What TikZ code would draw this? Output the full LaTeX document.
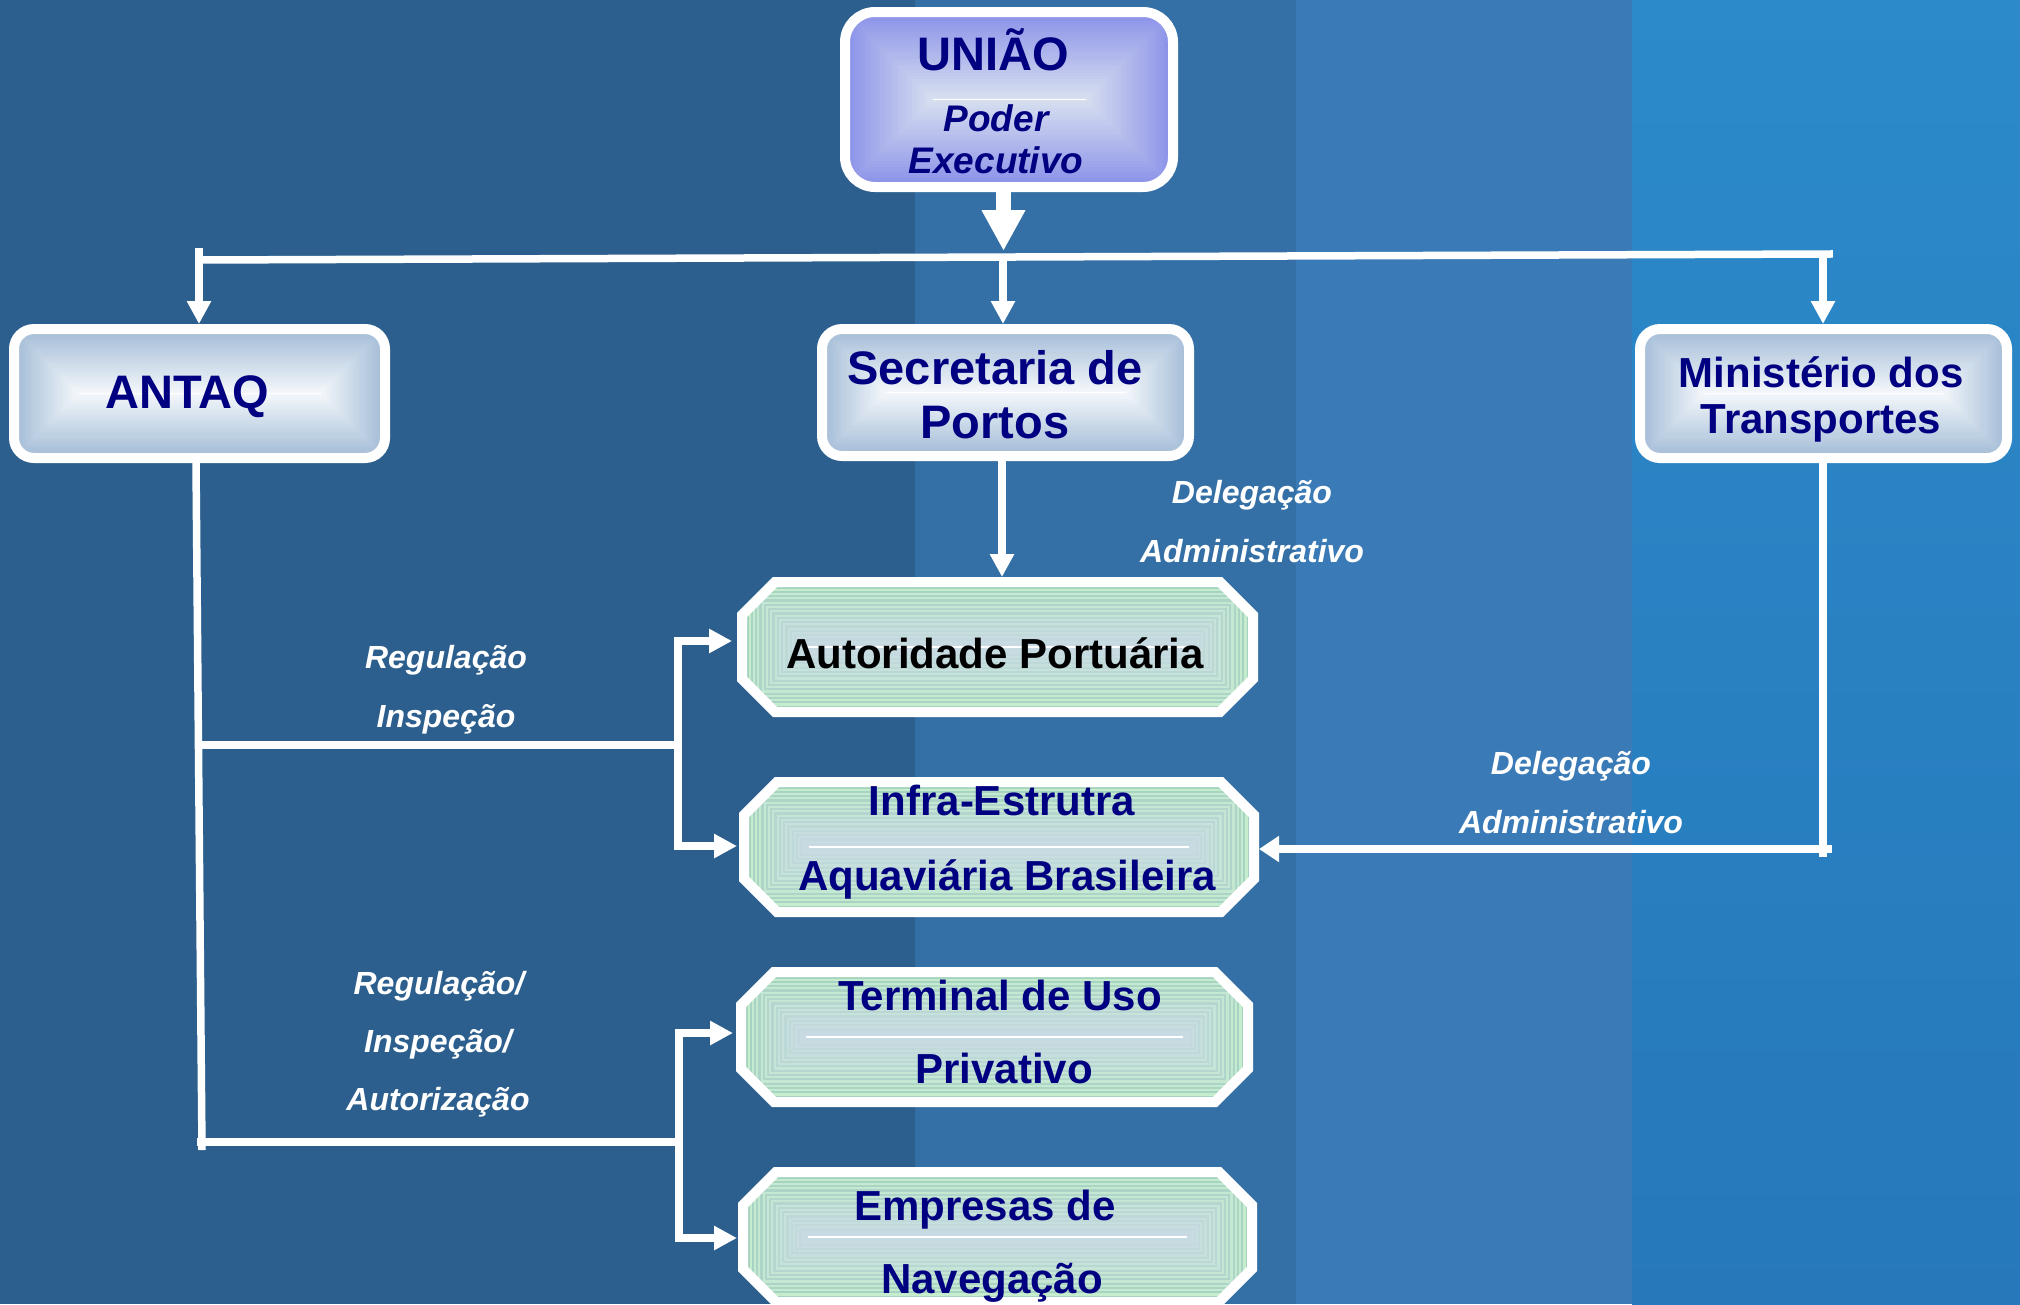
\documentclass[tikz,border=0pt]{standalone}
\usepackage{fontspec}
\setmainfont{Liberation Sans}
\usetikzlibrary{arrows.meta}
\definecolor{navyT}{HTML}{000080}
\definecolor{bgA}{HTML}{2C5F8D}
\definecolor{bgB}{HTML}{3470A5}
\definecolor{bgC}{HTML}{3A7BB7}
\definecolor{bgD}{HTML}{2C8ACA}
\definecolor{bgD2}{HTML}{2678BA}
\definecolor{blOut}{HTML}{A2BBD6}
\definecolor{blIn}{HTML}{F2F6FA}
\definecolor{unOut}{HTML}{8A91E8}
\definecolor{unIn}{HTML}{D6DEF0}
\definecolor{grA}{HTML}{A2D3BC}
\definecolor{grB}{HTML}{C4EECA}
\definecolor{grIn}{HTML}{C8DAE3}

% #1 name, #2 x1, #3 y1, #4 x2, #5 y2 (outer extents), #6 radius, #7 outer colour, #8 inner colour
\newcommand\roundbox[8]{%
  \pgfmathsetmacro\bvH{(#5-#3-10)/2}%
  \pgfmathsetmacro\bvM{(#3+#5)/2}%
  \pgfmathsetmacro\bvC{(#2+#4)/2}%
  \pgfmathsetmacro\bvW{#4-#2-10}%
  \pgfmathsetmacro\bvV{#5-#3-10}%
  \begin{scope}
    \clip[rounded corners=#6] (#2+5,#3+5) rectangle (#4-5,#5-5);
    \foreach \k in {0,...,29}{%
      \pgfmathsetmacro\bvI{\bvH*\k/30}%
      \pgfmathtruncatemacro\bvP{100-100*\k/29}%
      \colorlet{bvCur}{#7!\bvP!#8}%
      \fill[bvCur] (#2+5+\bvI,#3+5+\bvI) rectangle (#4-5-\bvI,#5-5-\bvI);
    }
    \draw[white,line width=1.5pt] (#2+5+\bvH,\bvM) -- (#4-5-\bvH,\bvM);
  \end{scope}
  \node[boxframe, rounded corners=#6, minimum width=\bvW pt, minimum height=\bvV pt] (#1) at (\bvC,\bvM) {};
}

% #1 name, #2 x1, #3 y1, #4 x2, #5 y2 (outer extents), #6 chamfer, #7 #8 outer colours, #9 inner colour
\newcommand\octbox[9]{%
  \pgfmathsetmacro\bvH{(#5-#3-10)/2}%
  \pgfmathsetmacro\bvM{(#3+#5)/2}%
  \pgfmathsetmacro\bvC{(#2+#4)/2}%
  \pgfmathsetmacro\bvW{#4-#2}%
  \pgfmathsetmacro\bvV{#5-#3}%
  \begin{scope}
    \clip (#2+5+#6,#3+5) -- (#4-5-#6,#3+5) -- (#4-5,#3+5+#6) -- (#4-5,#5-5-#6)
      -- (#4-5-#6,#5-5) -- (#2+5+#6,#5-5) -- (#2+5,#5-5-#6) -- (#2+5,#3+5+#6) -- cycle;
    \foreach \k in {0,...,29}{%
      \pgfmathsetmacro\bvI{\bvH*\k/30}%
      \pgfmathtruncatemacro\bvP{100-100*\k/29}%
      \ifodd\k\relax\colorlet{bvCur}{#8!\bvP!#9}\else\colorlet{bvCur}{#7!\bvP!#9}\fi
      \fill[bvCur] (#2+5+\bvI,#3+5+\bvI) rectangle (#4-5-\bvI,#5-5-\bvI);
    }
    \draw[white,line width=1.5pt] (#2+5+\bvH,\bvM) -- (#4-5-\bvH,\bvM);
  \end{scope}
  \draw[white,line width=10pt] (#2+5+#6,#3+5) -- (#4-5-#6,#3+5) -- (#4-5,#3+5+#6) -- (#4-5,#5-5-#6)
      -- (#4-5-#6,#5-5) -- (#2+5+#6,#5-5) -- (#2+5,#5-5-#6) -- (#2+5,#3+5+#6) -- cycle;
  \node[boxhold, minimum width=\bvW pt, minimum height=\bvV pt] (#1) at (\bvC,\bvM) {};
}

\begin{document}
\begin{tikzpicture}[x=1pt,y=-1pt,
  boxframe/.style={draw=white, line width=10pt, inner sep=0pt, outer sep=5pt},
  boxhold/.style={draw=none, rectangle, inner sep=0pt, outer sep=0pt},
  conn/.style={white, line width=7.5pt},
  arr/.style={-{Triangle[length=23pt,width=23pt]}},
  lbl/.style={inner sep=0pt, anchor=base, text=navyT, font=\bfseries\fontsize{47}{47}\selectfont},
  lblsm/.style={inner sep=0pt, anchor=base, text=navyT, font=\bfseries\fontsize{42}{42}\selectfont},
  lblit/.style={inner sep=0pt, anchor=base, text=navyT, font=\bfseries\itshape\fontsize{37}{37}\selectfont},
  tag/.style={inner sep=0pt, anchor=base, text=white, font=\bfseries\itshape\fontsize{32}{32}\selectfont}]

\useasboundingbox (0,0) rectangle (2020,1304);
% background
\fill[bgA] (0,0) rectangle (916,1304);
\fill[bgB] (915,0) rectangle (1297,1304);
\fill[bgC] (1296,0) rectangle (1633,1304);
\shade[top color=bgD, bottom color=bgD2] (1632,0) rectangle (2020,1304);

% boxes
\roundbox{uniao}{840}{7}{1178}{192}{30pt}{unOut}{unIn}
\roundbox{antaq}{9}{324}{390}{463}{20pt}{blOut}{blIn}
\roundbox{sec}{817}{324}{1194}{461}{20pt}{blOut}{blIn}
\roundbox{mint}{1635}{324}{2012}{463}{20pt}{blOut}{blIn}
\octbox{auto}{737}{577}{1258}{717}{33}{grA}{grB}{grIn}
\octbox{infra}{739}{777}{1259}{917}{33}{grA}{grB}{grIn}
\octbox{term}{736}{967}{1253}{1107}{33}{grA}{grB}{grIn}
\octbox{emp}{738}{1167}{1257}{1307}{33}{grA}{grB}{grIn}

% box texts
\node[lbl] (tUniao) at (993,70) {UNIÃO};
\node[lblit] (tPoder) at (996,131) {Poder};
\node[lblit] (tExec) at (996,173) {Executivo};
\node[lbl] (tAntaq) at (187,408) {ANTAQ};
\node[lbl] (tSec1) at (995,384) {Secretaria de};
\node[lbl] (tSec2) at (995,438) {Portos};
\node[lblsm] (tMin1) at (1821,387) {Ministério dos};
\node[lblsm] (tMin2) at (1821,433) {Transportes};
\node[lblsm, text=black] (tAuto) at (995,668) {Autoridade Portuária};
\node[lblsm] (tInf1) at (1002,815) {Infra-Estrutra};
\node[lblsm] (tInf2) at (1007,890) {Aquaviária Brasileira};
\node[lblsm] (tTer1) at (1000,1010) {Terminal de Uso};
\node[lblsm] (tTer2) at (1004,1083) {Privativo};
\node[lblsm] (tEmp1) at (985,1220) {Empresas de};
\node[lblsm] (tEmp2) at (992,1293) {Navegação};

% connector labels
\node[tag] (d1) at (1252,503) {Delegação};
\node[tag] (a1) at (1252,562) {Administrativo};
\node[tag] (d2) at (1571,774) {Delegação};
\node[tag] (a2) at (1571,833) {Administrativo};
\node[tag] (r1) at (446,668) {Regulação};
\node[tag] (i1) at (446,727) {Inspeção};
\node[tag] (r2) at (439,994) {Regulação/};
\node[tag] (i2) at (438,1052) {Inspeção/};
\node[tag] (au2) at (438,1110) {Autorização};

% coordinates for connector corners
\coordinate (unTip) at (1003.5,251);
\coordinate (busL) at (199,260);
\coordinate (busR) at (1829,254);
\coordinate (dA) at (199,248);
\coordinate (dS) at (1003,257);
\coordinate (dM) at (1823,254);
\coordinate (sA) at (1002,461);
\coordinate (tTop) at (196,463);
\coordinate (tB) at (202,1150);
\coordinate (b1L) at (199,745);
\coordinate (b1R) at (678,745);
\coordinate (b1T) at (678,641);
\coordinate (b1B) at (678,846);
\coordinate (b2L) at (201,1142);
\coordinate (b2R) at (679,1142);
\coordinate (b2T) at (679,1033);
\coordinate (b2B) at (679,1238);
\coordinate (mB) at (1823,857);
\coordinate (mR) at (1832,849);

% connectors
\draw[white, line width=15pt, -{Triangle[length=41pt,width=41pt]}] (unTip |- uniao.south) -- (unTip);
\draw[conn, line cap=rect] (busL) -- (busR);
\draw[conn, arr] (dA) -- (dA |- antaq.north);
\draw[conn, arr] (dS) -- (dS |- sec.north);
\draw[conn, arr] (dM) -- (dM |- mint.north);
\draw[conn, arr] (sA |- sec.south) -- (sA |- auto.north);

\draw[conn] (tTop) -- (tB);
\draw[conn] (b1L) -- (b1R);
\draw[conn, line cap=rect] (b1T) -- (b1B);
\draw[conn, arr, shorten >=5pt] (b1T) -- (b1T -| auto.west);
\draw[conn, arr, shorten >=2pt] (b1B) -- (b1B -| infra.west);

\draw[conn, line cap=rect] (b2L) -- (b2R);
\draw[conn, line cap=rect] (b2T) -- (b2B);
\draw[conn, arr, shorten >=3pt] (b2T) -- (b2T -| term.west);
\draw[conn, arr, shorten >=1pt] (b2B) -- (b2B -| emp.west);

\draw[conn] (dM |- mint.south) -- (mB);
\draw[conn, -{Triangle[length=20pt,width=25pt]}] (mR) -- (mR -| infra.east);
\end{tikzpicture}
\end{document}
